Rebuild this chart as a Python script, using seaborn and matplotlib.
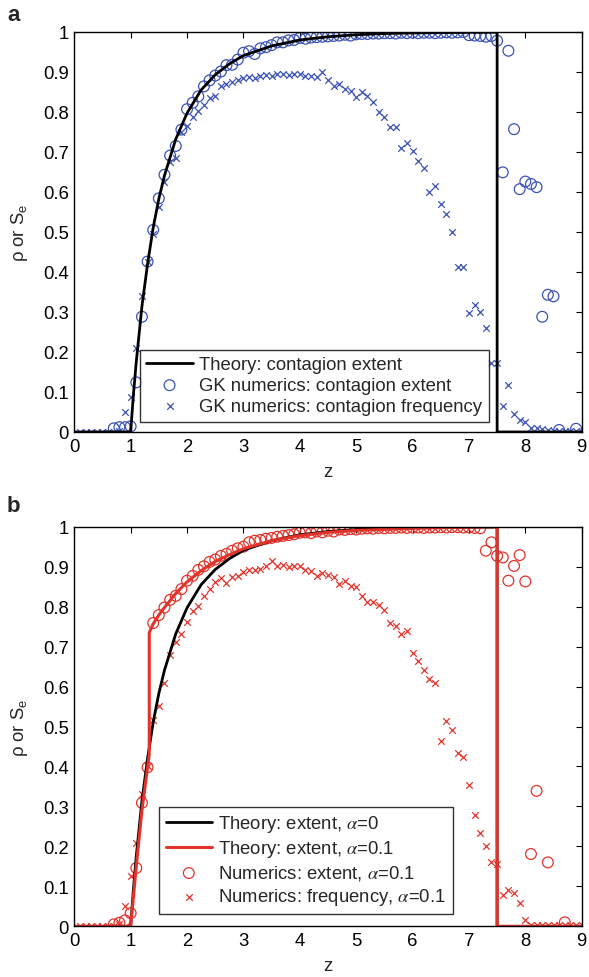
import numpy as np
import pandas as pd
import matplotlib
matplotlib.use("Agg")
import matplotlib.pyplot as plt
import seaborn as sns

# ---------------- data ----------------
# Panel a: theory curve (contagion extent)
theory_z = [0, 1.0, 1.05, 1.1, 1.2, 1.3, 1.4, 1.5, 1.6, 1.8, 2.0, 2.25, 2.5, 2.75,
            3.0, 3.5, 4.0, 4.5, 5.0, 5.5, 6.0, 7.0, 7.5, 7.5, 9.0]
theory_y = [0, 0, 0.095, 0.176, 0.314, 0.42, 0.511, 0.583, 0.641, 0.732, 0.797, 0.855,
            0.893, 0.920, 0.941, 0.965, 0.980, 0.988, 0.993, 0.996, 0.9975, 0.999,
            0.9994, 0, 0]

# Panel a: GK numerics, contagion extent (circles)
a_ext_z = [0.7, 0.8, 0.9, 1.0, 1.1, 1.2, 1.3, 1.4, 1.5, 1.6, 1.7, 1.8, 1.9, 2.0,
           2.1, 2.2, 2.3, 2.4, 2.5, 2.6, 2.7, 2.8, 2.9, 3.0, 3.1, 3.2, 3.3, 3.4,
           3.5, 3.6, 3.7, 3.8, 3.9, 4.0, 4.1, 4.2, 4.3, 4.4, 4.5, 4.6, 4.7, 4.8,
           4.9, 5.0, 5.1, 5.2, 5.3, 5.4, 5.5, 5.6, 5.7, 5.8, 5.9, 6.0, 6.1, 6.2,
           6.3, 6.4, 6.5, 6.6, 6.7, 6.8, 6.9, 7.0, 7.1, 7.2, 7.3, 7.4, 7.5, 7.6,
           7.7, 7.8, 7.9, 8.0, 8.1, 8.2, 8.3, 8.4, 8.5, 8.6, 8.9]
a_ext_v = [0.009, 0.012, 0.012, 0.014, 0.124, 0.288, 0.426, 0.505, 0.584, 0.643,
           0.691, 0.715, 0.756, 0.807, 0.823, 0.839, 0.864, 0.879, 0.891, 0.901,
           0.917, 0.918, 0.931, 0.948, 0.952, 0.945, 0.959, 0.962, 0.967, 0.974,
           0.974, 0.979, 0.980, 0.985, 0.983, 0.986, 0.987, 0.988, 0.989, 0.990,
           0.991, 0.993, 0.991, 0.994, 0.995, 0.995, 0.996, 0.996, 0.997, 0.997,
           0.996, 0.998, 0.997, 0.998, 0.997, 0.998, 0.998, 0.997, 0.998, 0.999,
           0.998, 0.999, 1.000, 0.992, 0.991, 0.990, 0.988, 0.990, 0.978, 0.649,
           0.953, 0.757, 0.607, 0.626, 0.620, 0.612, 0.288, 0.343, 0.339, 0.005,
           0.008]

# Panel a: GK numerics, contagion frequency (crosses)
a_freq_z = [0.1, 0.2, 0.3, 0.4, 0.5, 0.6, 0.7, 0.8, 0.9, 1.0, 1.1, 1.2, 1.3, 1.4,
            1.5, 1.6, 1.7, 1.8, 1.9, 2.0, 2.1, 2.2, 2.3, 2.4, 2.5, 2.6, 2.7, 2.8,
            2.9, 3.0, 3.1, 3.2, 3.3, 3.4, 3.5, 3.6, 3.7, 3.8, 3.9, 4.0, 4.1, 4.2,
            4.3, 4.4, 4.5, 4.6, 4.7, 4.8, 4.9, 5.0, 5.1, 5.2, 5.3, 5.4, 5.5, 5.6,
            5.7, 5.8, 5.9, 6.0, 6.1, 6.2, 6.3, 6.4, 6.5, 6.6, 6.7, 6.8, 6.9, 7.0,
            7.1, 7.2, 7.3, 7.4, 7.5, 7.6, 7.7, 7.8, 7.9, 8.0, 8.1, 8.2, 8.3, 8.4,
            8.5, 8.6, 8.7, 8.8, 8.9, 9.0]
a_freq_v = [0, 0, 0, 0, 0, 0, 0, 0.003, 0.049, 0.087, 0.209, 0.341, 0.426, 0.495,
            0.562, 0.626, 0.674, 0.686, 0.750, 0.764, 0.787, 0.803, 0.818, 0.834,
            0.840, 0.866, 0.870, 0.875, 0.880, 0.884, 0.888, 0.886, 0.891, 0.893,
            0.890, 0.896, 0.894, 0.893, 0.895, 0.895, 0.890, 0.890, 0.887, 0.901,
            0.880, 0.864, 0.870, 0.858, 0.853, 0.838, 0.849, 0.839, 0.826, 0.799,
            0.787, 0.762, 0.762, 0.711, 0.723, 0.703, 0.678, 0.659, 0.601, 0.614,
            0.569, 0.545, 0.499, 0.412, 0.412, 0.298, 0.318, 0.300, 0.260, 0.173,
            0.173, 0.066, 0.118, 0.045, 0.030, 0.026, 0.010, 0.010, 0.008, 0.004,
            0.003, 0.003, 0.002, 0.002, 0.002, 0.001]

# Panel b: theory with alpha = 0.1
red_theory_z = [0, 1.0, 1.1, 1.2, 1.33, 1.33, 1.4, 1.5, 1.6, 1.8, 2.0, 2.25, 2.5,
                2.75, 3.0, 3.5, 4.0, 4.5, 5.0, 6.0, 7.0, 7.5, 7.5, 9.0]
red_theory_y = [0, 0, 0.15, 0.29, 0.43, 0.735, 0.757, 0.779, 0.798, 0.833, 0.862,
                0.89, 0.913, 0.930, 0.945, 0.965, 0.978, 0.986, 0.991, 0.996,
                0.999, 0.9995, 0, 0]

# Panel b: numerics, extent, alpha = 0.1 (circles)
b_ext_z = [0.7, 0.8, 0.9, 1.0, 1.1, 1.2, 1.3, 1.4, 1.5, 1.6, 1.7, 1.8, 1.9, 2.0,
           2.1, 2.2, 2.3, 2.4, 2.5, 2.6, 2.7, 2.8, 2.9, 3.0, 3.1, 3.2, 3.3, 3.4,
           3.5, 3.6, 3.7, 3.8, 3.9, 4.0, 4.1, 4.2, 4.3, 4.4, 4.5, 4.6, 4.7, 4.8,
           4.9, 5.0, 5.1, 5.2, 5.3, 5.4, 5.5, 5.6, 5.7, 5.8, 5.9, 6.0, 6.1, 6.2,
           6.3, 6.4, 6.5, 6.6, 6.7, 6.8, 6.9, 7.0, 7.1, 7.2, 7.3, 7.4, 7.5, 7.6,
           7.7, 7.8, 7.9, 8.0, 8.1, 8.2, 8.4, 8.7]
b_ext_v = [0.005, 0.009, 0.015, 0.033, 0.146, 0.309, 0.398, 0.759, 0.779, 0.798,
           0.817, 0.827, 0.844, 0.865, 0.877, 0.892, 0.901, 0.912, 0.918, 0.927,
           0.932, 0.940, 0.946, 0.950, 0.961, 0.965, 0.967, 0.970, 0.972, 0.975,
           0.977, 0.979, 0.981, 0.985, 0.986, 0.984, 0.988, 0.986, 0.990, 0.988,
           0.993, 0.992, 0.994, 0.993, 0.995, 0.996, 0.995, 0.997, 0.996, 0.997,
           0.997, 0.998, 0.997, 0.998, 0.998, 0.997, 0.998, 0.998, 0.999, 0.998,
           0.999, 0.999, 0.998, 0.998, 0.997, 0.996, 0.940, 0.961, 0.927, 0.923,
           0.865, 0.902, 0.929, 0.863, 0.181, 0.339, 0.160, 0.010]

# Panel b: numerics, frequency, alpha = 0.1 (crosses)
b_freq_z = a_freq_z
b_freq_v = [0, 0, 0, 0, 0, 0, 0, 0.005, 0.052, 0.127, 0.208, 0.331, 0.400, 0.517,
            0.552, 0.610, 0.679, 0.711, 0.731, 0.761, 0.790, 0.802, 0.827, 0.844,
            0.861, 0.871, 0.859, 0.873, 0.877, 0.886, 0.892, 0.892, 0.894, 0.901,
            0.915, 0.901, 0.904, 0.898, 0.901, 0.901, 0.892, 0.890, 0.877, 0.884,
            0.878, 0.875, 0.857, 0.865, 0.851, 0.849, 0.827, 0.812, 0.812, 0.804,
            0.792, 0.759, 0.751, 0.731, 0.740, 0.684, 0.665, 0.641, 0.619, 0.609,
            0.463, 0.515, 0.491, 0.435, 0.424, 0.354, 0.279, 0.233, 0.200, 0.160,
            0.156, 0.078, 0.091, 0.083, 0.058, 0.017, 0.003, 0.003, 0.003, 0.003,
            0.003, 0.003, 0.003, 0.003, 0.003, 0.003]

x_ticks = [0, 1, 2, 3, 4, 5, 6, 7, 8, 9]
y_ticks = [0, 0.1, 0.2, 0.3, 0.4, 0.5, 0.6, 0.7, 0.8, 0.9, 1]
y_tick_labels = ["0", "0.1", "0.2", "0.3", "0.4", "0.5", "0.6", "0.7", "0.8", "0.9", "1"]

BLUE = "#3b52b4"
RED = "#e2332b"

# ---------------- style ----------------
sns.set_theme(style="white")
plt.rcParams["font.family"] = ["Liberation Sans", "DejaVu Sans"]
plt.rcParams["mathtext.fontset"] = "custom"
plt.rcParams["mathtext.rm"] = "Liberation Sans"
plt.rcParams["mathtext.it"] = "Liberation Sans:italic"

FS = 13.3

fig = plt.figure(figsize=(5.89, 9.78), dpi=100)
ax_a = fig.add_axes([0.1261, 0.5573, 0.8615, 0.4090])
ax_b = fig.add_axes([0.1261, 0.0518, 0.8615, 0.4086])


def style_axes(ax):
    ax.set_xlim(0, 9)
    ax.set_ylim(0, 1)
    ax.set_xticks(x_ticks)
    ax.set_xticklabels([str(t) for t in x_ticks])
    ax.set_yticks(y_ticks)
    ax.set_yticklabels(y_tick_labels)
    ax.tick_params(direction="in", top=True, right=True, length=4, width=0.8,
                   labelsize=FS, colors="black", pad=4)
    for s in ax.spines.values():
        s.set_color("black")
        s.set_linewidth(1.0)
    ax.set_xlabel("z", fontsize=FS, labelpad=6)
    ax.set_ylabel(r"ρ or S$_\mathrm{e}$", fontsize=FS, labelpad=9)


def make_legend(ax, anchor):
    leg = ax.legend(loc="lower left", bbox_to_anchor=anchor,
                    fontsize=FS, frameon=True, fancybox=False,
                    edgecolor="black", borderpad=0.35, labelspacing=0.22,
                    handlelength=2.5, handletextpad=0.35, borderaxespad=0)
    leg.get_frame().set_linewidth(1.0)
    return leg


# ---------------- panel a ----------------
sns.lineplot(x=theory_z, y=theory_y, ax=ax_a, sort=False, estimator=None,
             color="black", linewidth=2.0, label="Theory: contagion extent")
sns.scatterplot(x=a_ext_z, y=a_ext_v, ax=ax_a, marker="o", s=60,
                facecolors="none", edgecolor=BLUE, linewidth=0.9,
                label="GK numerics: contagion extent")
sns.scatterplot(x=a_freq_z, y=a_freq_v, ax=ax_a, marker="x", s=22,
                color=BLUE, linewidth=0.9,
                label="GK numerics: contagion frequency")
style_axes(ax_a)
make_legend(ax_a, (0.1295, 0.026))

# ---------------- panel b ----------------
sns.lineplot(x=theory_z, y=theory_y, ax=ax_b, sort=False, estimator=None,
             color="black", linewidth=2.0, label=r"Theory: extent, $\alpha$=0")
sns.lineplot(x=red_theory_z, y=red_theory_y, ax=ax_b, sort=False, estimator=None,
             color=RED, linewidth=2.2, label=r"Theory: extent, $\alpha$=0.1")
sns.scatterplot(x=b_ext_z, y=b_ext_v, ax=ax_b, marker="o", s=60,
                facecolors="none", edgecolor=RED, linewidth=0.9,
                label=r"Numerics: extent, $\alpha$=0.1")
sns.scatterplot(x=b_freq_z, y=b_freq_v, ax=ax_b, marker="x", s=22,
                color=RED, linewidth=0.9,
                label=r"Numerics: frequency, $\alpha$=0.1")
style_axes(ax_b)
leg_b = make_legend(ax_b, (0.1675, 0.031))
for t in leg_b.get_texts():
    t.set_math_fontfamily("stix")

# panel letters
fig.text(0.012, 0.979, "a", fontsize=16, fontweight="bold", va="baseline")
fig.text(0.012, 0.476, "b", fontsize=16, fontweight="bold", va="baseline")

fig.savefig("out.png", dpi=100)
